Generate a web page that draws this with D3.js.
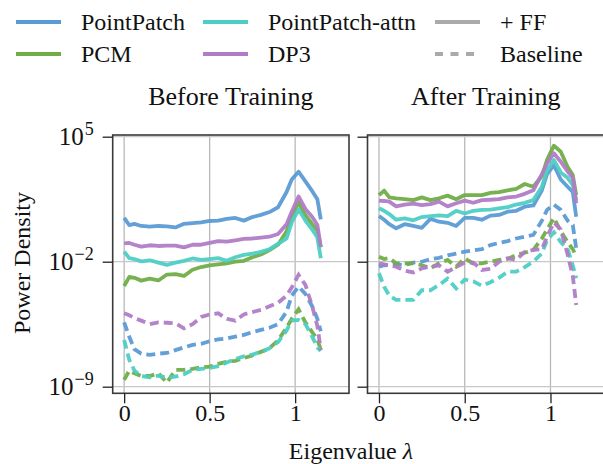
<!DOCTYPE html>
<html><head><meta charset="utf-8">
<script src="https://cdn.jsdelivr.net/npm/d3@7"></script>
<style>
body{margin:0;background:#fff}
svg{display:block}
</style>
</head><body>
<svg id="c" width="603" height="464" font-family="Liberation Serif, Times New Roman, serif"></svg>
<script>
// Eigenvalue positions (x)
const eigenvalues = [0, 0.03, 0.06, 0.1, 0.15, 0.2, 0.25, 0.3, 0.35, 0.4, 0.45, 0.5, 0.55, 0.6, 0.65, 0.7, 0.75, 0.8, 0.85, 0.9, 0.95, 0.98, 1.02, 1.06, 1.1, 1.13, 1.15];

const methods = ["PointPatch", "PCM", "PointPatch-attn", "DP3"];
const methodColors = ["#5b9bd5", "#70ad47", "#4ecdc4", "#b07cc6"];

// Power density, stored as log10 values
// Before training, + FF (solid)
const beforeFF_PointPatch = [0.45, 0.05, 0.12, 0.0, -0.04, 0.0, -0.02, -0.08, 0.12, 0.16, 0.2, 0.28, 0.3, 0.4, 0.45, 0.3, 0.5, 0.62, 0.78, 1.05, 1.9, 2.6, 3.04, 2.5, 1.95, 1.5, 0.37];
const beforeFF_PCM = [-3.36, -2.85, -2.9, -3.06, -2.95, -3.05, -2.72, -2.7, -2.8, -2.45, -2.3, -2.2, -2.15, -2.1, -2.0, -1.95, -1.75, -1.6, -1.35, -1.05, -0.3, 0.5, 1.32, 0.6, 0.1, -0.25, -1.2];
const beforeFF_PPattn = [-1.44, -1.8, -1.85, -1.98, -1.92, -2.05, -2.18, -2.05, -1.95, -1.82, -1.9, -1.85, -1.8, -1.95, -1.75, -1.62, -1.55, -1.45, -1.3, -1.0, -0.7, 0.2, 0.93, 0.3, -0.2, -0.65, -1.81];
const beforeFF_DP3 = [-0.97, -0.95, -1.05, -1.16, -1.08, -1.12, -1.1, -1.1, -1.2, -1.05, -1.05, -0.95, -0.85, -0.88, -0.8, -0.72, -0.7, -0.65, -0.6, -0.45, 0.1, 0.8, 1.65, 0.95, 0.5, 0.05, -1.16];
// Before training, baseline (dashed)
const beforeBase_PointPatch = [-5.4, -6.2, -6.9, -7.15, -7.22, -7.15, -7.11, -6.95, -6.8, -6.66, -6.6, -6.45, -6.35, -6.3, -6.2, -6.1, -5.95, -5.82, -5.7, -5.5, -4.8, -3.9, -3.4, -3.8, -4.5, -5.2, -5.9];
const beforeBase_PCM = [-8.62, -8.1, -8.25, -8.4, -8.4, -8.25, -8.77, -8.06, -8.06, -8.0, -7.92, -7.88, -7.72, -7.6, -7.55, -7.4, -7.25, -7.05, -6.85, -6.4, -5.7, -5.2, -4.67, -5.4, -5.95, -6.35, -6.94];
const beforeBase_PPattn = [-6.38, -7.5, -8.1, -8.4, -8.47, -8.38, -8.5, -8.44, -8.3, -8.06, -8.0, -7.95, -7.85, -7.65, -7.45, -7.3, -7.2, -7.05, -6.85, -6.5, -5.85, -5.3, -5.26, -5.5, -6.2, -6.8, -7.0];
const beforeBase_DP3 = [-4.89, -5.0, -5.15, -5.3, -5.5, -5.4, -5.42, -5.45, -5.73, -5.5, -5.1, -4.95, -4.89, -5.2, -5.3, -4.95, -4.82, -4.7, -4.5, -4.3, -3.9, -3.45, -2.74, -3.3, -4.5, -5.6, -6.94];
// After training, + FF (solid)
const afterFF_PointPatch = [0.56, 0.35, 0.1, -0.13, 0.1, 0.0, -0.1, 0.4, 0.24, 0.18, 0.0, 0.45, 0.45, 0.35, 0.58, 0.62, 0.8, 0.85, 1.08, 1.15, 2.0, 2.9, 3.41, 2.6, 2.2, 1.9, 0.52];
const afterFF_PCM = [1.73, 1.98, 1.6, 1.55, 1.5, 1.45, 1.6, 1.45, 1.55, 1.7, 1.5, 1.73, 1.73, 1.73, 1.85, 1.9, 2.0, 2.08, 2.35, 2.2, 2.8, 3.7, 4.5, 4.16, 3.3, 2.85, 1.73];
const afterFF_PPattn = [0.99, 0.85, 0.67, 0.35, 0.42, 0.32, 0.5, 0.55, 0.6, 0.55, 0.85, 0.7, 0.85, 0.9, 0.92, 0.99, 1.05, 1.2, 1.3, 1.45, 2.2, 3.1, 3.69, 3.0, 2.7, 2.3, 1.45];
const afterFF_DP3 = [1.42, 1.4, 1.36, 1.1, 1.2, 1.25, 1.17, 1.22, 1.36, 1.1, 1.27, 1.42, 1.3, 1.45, 1.47, 1.5, 1.6, 1.65, 1.8, 2.0, 2.9, 3.5, 4.07, 3.6, 3.05, 2.7, 1.27];
// After training, baseline (dashed)
const afterBase_PointPatch = [-2.28, -2.2, -2.19, -2.15, -2.19, -2.05, -2.0, -1.85, -1.78, -1.65, -1.55, -1.44, -1.36, -1.3, -1.07, -0.95, -0.85, -0.7, -0.6, -0.5, 0.3, 0.9, 1.2, 0.9, 0.3, 0.05, -1.25];
const afterBase_PCM = [-1.72, -1.85, -1.8, -2.09, -2.09, -2.09, -2.2, -2.37, -2.09, -1.9, -2.28, -1.81, -2.1, -2.09, -2.0, -1.9, -1.85, -1.62, -1.5, -1.34, -0.7, -0.2, 0.45, -0.3, -0.9, -1.3, -1.68];
const afterBase_PPattn = [-2.65, -3.4, -3.9, -4.14, -4.14, -4.14, -3.6, -3.6, -3.3, -2.95, -3.5, -3.0, -3.1, -3.35, -3.15, -2.9, -2.56, -2.56, -2.3, -2.0, -1.53, -0.8, -0.35, -0.9, -1.3, -2.2, -2.93];
const afterBase_DP3 = [-2.09, -2.15, -2.2, -2.28, -2.5, -2.6, -2.37, -2.28, -2.2, -2.56, -2.3, -2.05, -2.05, -2.46, -2.4, -2.0, -1.8, -1.9, -1.45, -1.34, -1.3, -0.6, 0.2, -0.2, -1.6, -2.8, -4.42];

const xTicks = [0, 0.5, 1];
const xTickLabels = ["0", "0.5", "1"];
const yTickExponents = [-9, -2, 5];
const panelTitles = ["Before Training", "After Training"];
const styleLabels = ["+ FF", "Baseline"];

const beforeFF = [beforeFF_PointPatch, beforeFF_PCM, beforeFF_PPattn, beforeFF_DP3];
const beforeBase = [beforeBase_PointPatch, beforeBase_PCM, beforeBase_PPattn, beforeBase_DP3];
const afterFF = [afterFF_PointPatch, afterFF_PCM, afterFF_PPattn, afterFF_DP3];
const afterBase = [afterBase_PointPatch, afterBase_PCM, afterBase_PPattn, afterBase_DP3];

const FONT = "Liberation Serif, Times New Roman, serif";
const svg = d3.select("#c");
const yTop = 135, yBot = 393.3;
const panels = [
  {x0: 112.7, x1: 349, ff: beforeFF, base: beforeBase, labels: true},
  {x0: 367.5, x1: 604.5, ff: afterFF, base: afterBase, labels: false}
];
const y = d3.scaleLog().domain([Math.pow(10, -9.37), Math.pow(10, 5.095)]).range([yBot, yTop]);
const DASH = "9,5";
const LW = 3.8;

function txt(sel) { return sel.attr("font-family", FONT).attr("fill", "#111"); }

panels.forEach((p, pi) => {
  const x = d3.scaleLinear().domain([-0.067, 1.315]).range([p.x0, p.x1]);
  const g = svg.append("g");
  g.selectAll(".vg").data(xTicks).join("line")
    .attr("x1", d => x(d)).attr("x2", d => x(d)).attr("y1", yTop).attr("y2", yBot)
    .attr("stroke", "#b8b8b8").attr("stroke-width", 1.3);
  g.selectAll(".hg").data(yTickExponents).join("line")
    .attr("x1", p.x0).attr("x2", p.x1).attr("y1", d => y(Math.pow(10, d))).attr("y2", d => y(Math.pow(10, d)))
    .attr("stroke", "#c8c8c8").attr("stroke-width", 1.3);

  const line = d3.line().x((d, i) => x(eigenvalues[i])).y(d => y(Math.pow(10, d)));
  methods.forEach((m, mi) => {
    g.append("path").attr("d", line(p.ff[mi])).attr("fill", "none")
      .attr("stroke", methodColors[mi]).attr("stroke-width", LW).attr("stroke-linejoin", "round").attr("opacity", 0.95);
    g.append("path").attr("d", line(p.base[mi])).attr("fill", "none")
      .attr("stroke", methodColors[mi]).attr("stroke-width", LW).attr("stroke-dasharray", DASH).attr("opacity", 0.95);
  });

  g.append("rect").attr("x", p.x0).attr("y", yTop).attr("width", p.x1 - p.x0).attr("height", yBot - yTop)
    .attr("fill", "none").attr("stroke", "#3a3a3a").attr("stroke-width", 1.6);

  const xa = g.append("g").attr("transform", `translate(0,${yBot})`)
    .call(d3.axisBottom(x).tickValues(xTicks).tickSize(10).tickPadding(1).tickFormat((d, i) => xTickLabels[i]));
  xa.attr("font-family", FONT);
  xa.select(".domain").remove();
  xa.selectAll("line").attr("stroke", "#222").attr("stroke-width", 1.3);
  txt(xa.selectAll("text")).attr("font-size", 24);

  const ya = g.append("g").attr("transform", `translate(${p.x0},0)`)
    .call(d3.axisLeft(y).tickValues(yTickExponents.map(e => Math.pow(10, e))).tickSize(10).tickPadding(9).tickFormat(""));
  ya.attr("font-family", FONT);
  ya.select(".domain").remove();
  ya.selectAll("line").attr("stroke", "#222").attr("stroke-width", 1.3);
  if (p.labels) {
    ya.selectAll(".tick text").each(function(d, i) {
      const t = txt(d3.select(this)).attr("font-size", 25);
      t.text(null);
      t.append("tspan").text("10");
      const e = yTickExponents[i];
      t.append("tspan").attr("font-size", 18).attr("dx", 1).attr("dy", "-0.55em").text(e < 0 ? "\u2212" + Math.abs(e) : String(e));
    });
  }

  txt(svg.append("text")).attr("x", (p.x0 + Math.min(p.x1, 604)) / 2).attr("y", 105)
    .attr("text-anchor", "middle").attr("font-size", 26).text(panelTitles[pi]);
});

txt(svg.append("text")).attr("transform", "translate(22,263) rotate(-90)").attr("text-anchor", "middle")
  .attr("dy", "0.35em").attr("font-size", 24).text("Power Density");
const xl = txt(svg.append("text")).attr("x", 351).attr("y", 459).attr("text-anchor", "middle").attr("font-size", 24);
xl.append("tspan").text("Eigenvalue ");
xl.append("tspan").attr("font-style", "italic").text("\u03bb");

const legendItems = [
  {label: methods[0], color: methodColors[0], dash: null, col: 0, row: 0},
  {label: methods[1], color: methodColors[1], dash: null, col: 0, row: 1},
  {label: methods[2], color: methodColors[2], dash: null, col: 1, row: 0},
  {label: methods[3], color: methodColors[3], dash: null, col: 1, row: 1},
  {label: styleLabels[0], color: "#aaaaaa", dash: null, col: 2, row: 0},
  {label: styleLabels[1], color: "#aaaaaa", dash: "8,7.5", col: 2, row: 1}
];
const colX = [16, 203, 435];
const rowY = [22, 54];
const lg = svg.append("g");
legendItems.forEach(it => {
  const lx = colX[it.col], ly = rowY[it.row];
  lg.append("line").attr("x1", lx).attr("x2", lx + 45).attr("y1", ly).attr("y2", ly)
    .attr("stroke", it.color).attr("stroke-width", LW).attr("stroke-dasharray", it.dash);
  txt(lg.append("text")).attr("x", lx + 65).attr("y", ly + 8).attr("font-size", 24).text(it.label);
});
</script>
</body></html>
